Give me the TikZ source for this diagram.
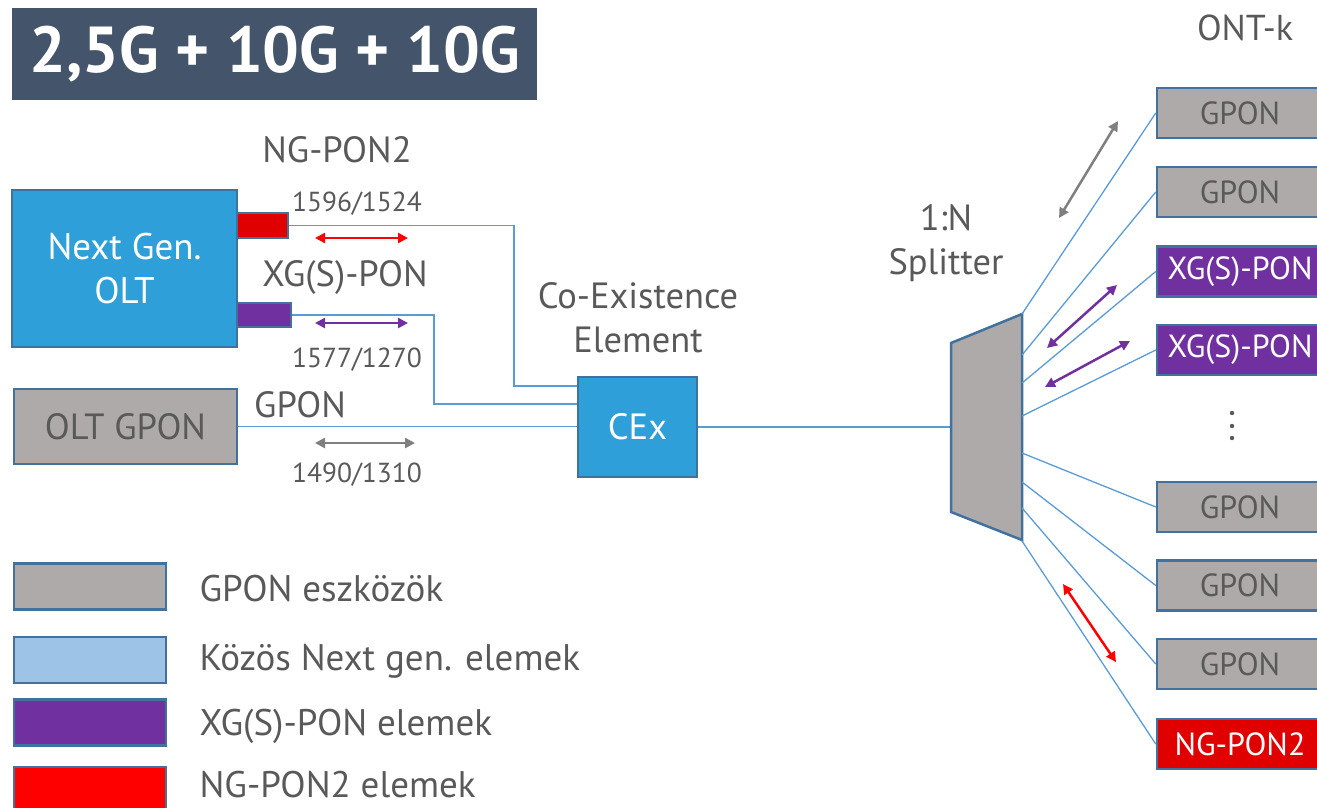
\documentclass[tikz,border=0pt]{standalone}
\usepackage{fontspec}
\setmainfont{PT Sans}
\usetikzlibrary{arrows.meta}
\definecolor{txtgray}{HTML}{595959}
\definecolor{edgeblue}{HTML}{41719C}
\definecolor{linkblue}{HTML}{5B9BD5}
\definecolor{oltblue}{HTML}{2E9FD9}
\definecolor{devgray}{HTML}{AEAAAA}
\definecolor{lightblue}{HTML}{9DC3E6}
\definecolor{xgpurple}{HTML}{7030A0}
\definecolor{ngred}{HTML}{E00000}
\definecolor{legred}{HTML}{FF0000}
\definecolor{titlebg}{HTML}{44546A}
\definecolor{arrgray}{HTML}{7F7F7F}
\newcommand{\fsz}[2]{\fontsize{#1}{#2}\selectfont}
\tikzset{
  devbox/.style={draw=edgeblue, line width=2.5pt, inner sep=0pt},
  ontbox/.style={devbox, minimum width=166pt, minimum height=50pt, font=\fsz{32}{36}},
  legbox/.style={devbox, minimum width=152pt, minimum height=46pt},
  legtext/.style={anchor=west, text=txtgray, font=\fsz{37}{40}},
  link/.style={draw=linkblue, line width=1.3pt},
  lbl/.style={text=txtgray, font=\fsz{36.5}{44}},
  wl/.style={text=txtgray, font=\fsz{27.5}{30}},
  dblarrow/.style={line width=2.5pt, {Triangle[length=10pt,width=10pt]}-{Triangle[length=10pt,width=10pt]}},
}
\begin{document}
\begin{tikzpicture}[x=1pt,y=-1pt]
\clip (0,0) rectangle (1317,807);
\useasboundingbox (0,0) rectangle (1317,807);

% title
\node[fill=titlebg, minimum width=525pt, minimum height=92pt, inner sep=0pt,
      text=white, font=\fsz{65}{70}\bfseries] (title) at (274.5,54) {2,5G + 10G + 10G};
\node[lbl, font=\fsz{36}{40}] (ontk) at (1245,28) {ONT-k};

% OLTs
\node[devbox, fill=oltblue, minimum width=225pt, minimum height=157pt, text=white,
      font=\fsz{37}{44}, align=center] (ngolt) at (124.5,268.5) {Next Gen.\\OLT};
\node[devbox, fill=ngred, line width=2pt, minimum width=51pt, minimum height=25pt] (rport) at (262.5,225.5) {};
\node[devbox, fill=xgpurple, line width=2pt, minimum width=54pt, minimum height=24pt] (pport) at (264,315) {};
\node[devbox, fill=devgray, minimum width=223pt, minimum height=75pt, text=txtgray,
      font=\fsz{36.5}{40}] (oltg) at (125.5,426.5) {OLT GPON};

% labels
\node[lbl] (lng) at (337,150) {NG-PON2};
\node[wl] (w1) at (357,204) {1596/1524};
\node[lbl] (lxg) at (345,278) {XG(S)-PON};
\node[wl] (w2) at (357,360) {1577/1270};
\node[lbl] (lgp) at (300,405) {GPON};
\node[wl] (w3) at (357,475) {1490/1310};
\node[lbl, align=center] (lcex) at (638,318) {Co-Existence\\Element};
\node[lbl, align=center] (lspl) at (946,243) {1:N\\Splitter};

% CEx
\node[devbox, fill=oltblue, minimum width=119pt, minimum height=100pt, text=white,
      font=\fsz{36.5}{40}] (cex) at (637.5,427) {CEx};

% arrows left
\coordinate (ra1) at (315,238); \coordinate (ra2) at (408,238);
\coordinate (pa1) at (315,323); \coordinate (pa2) at (408,323);
\coordinate (ga1) at (315,443); \coordinate (ga2) at (415,443);
\draw[dblarrow, color=legred] (ra1) -- (ra2);
\draw[dblarrow, color=xgpurple] (pa1) -- (pa2);
\draw[dblarrow, color=arrgray] (ga1) -- (ga2);

% links to CEx
\coordinate (k1) at (514,386);
\coordinate (k2) at (434,404);
\draw[link] (rport.east) -| (k1) -- (k1 -| cex.west);
\draw[link] (pport.east) -| (k2) -- (k2 -| cex.west);
\draw[link] (oltg.east) -- (oltg.east -| cex.west);

% splitter
\coordinate (sp1) at (951,343);
\coordinate (sp2) at (1022,314);
\coordinate (sp3) at (1022,540);
\coordinate (sp4) at (951,512);
\draw[link] (cex.east) -- (cex.east -| sp1);
\filldraw[fill=devgray, draw=edgeblue, line width=2.5pt, line join=miter] (sp1) -- (sp2) -- (sp3) -- (sp4) -- cycle;

% ONTs
\node[ontbox, fill=devgray, text=txtgray] (o1) at (1240,113) {GPON};
\node[ontbox, fill=devgray, text=txtgray] (o2) at (1240,192) {GPON};
\node[ontbox, fill=xgpurple, text=white] (o3) at (1240,271.5) {XG(S)-PON};
\node[ontbox, fill=xgpurple, text=white] (o4) at (1240,350) {XG(S)-PON};
\node[ontbox, fill=devgray, text=txtgray] (o5) at (1240,507) {GPON};
\node[ontbox, fill=devgray, text=txtgray] (o6) at (1240,585.5) {GPON};
\node[ontbox, fill=devgray, text=txtgray] (o7) at (1240,664) {GPON};
\node[ontbox, fill=ngred, text=white] (o8) at (1240,744) {NG-PON2};
\fill[txtgray] (1232,413) circle (2.2pt) (1232,426) circle (2.2pt) (1232,438) circle (2.2pt);

% splitter fan
\coordinate (f1) at (1022,314);
\coordinate (f2) at (1022,355);
\coordinate (f3) at (1022,383);
\coordinate (f4) at (1022,416);
\coordinate (f5) at (1022,453);
\coordinate (f6) at (1022,482);
\coordinate (f7) at (1022,508);
\coordinate (f8) at (1022,541);
\draw[link] (f1) -- (o1.west);
\draw[link] (f2) -- (o2.west);
\draw[link] (f3) -- (o3.west);
\draw[link] (f4) -- (o4.west);
\draw[link] (f5) -- (o5.west);
\draw[link] (f6) -- (o6.west);
\draw[link] (f7) -- (o7.west);
\draw[link] (f8) -- (o8.west);

% fan arrows
\coordinate (g1) at (1059,218); \coordinate (g2) at (1118,121);
\coordinate (p1) at (1047,348); \coordinate (p2) at (1117,285);
\coordinate (p3) at (1045,387); \coordinate (p4) at (1130,341);
\coordinate (r1) at (1063,584); \coordinate (r2) at (1116,662);
\draw[dblarrow, color=arrgray] (g1) -- (g2);
\draw[dblarrow, color=xgpurple] (p1) -- (p2);
\draw[dblarrow, color=xgpurple] (p3) -- (p4);
\draw[dblarrow, color=legred] (r1) -- (r2);

% legend
\node[legbox, fill=devgray] (lg1) at (90,586.5) {};
\node[legbox, fill=lightblue] (lg2) at (90,660) {};
\node[legbox, fill=xgpurple] (lg3) at (90,722.5) {};
\node[legbox, fill=legred] (lg4) at (90,790) {};
\node[legtext] (lt1) at (196,589) {GPON eszközök};
\node[legtext] (lt2) at (196,661) {Közös Next gen. elemek};
\node[legtext] (lt3) at (196,726) {XG(S)-PON elemek};
\node[legtext] (lt4) at (196,785) {NG-PON2 elemek};
\end{tikzpicture}
\end{document}
